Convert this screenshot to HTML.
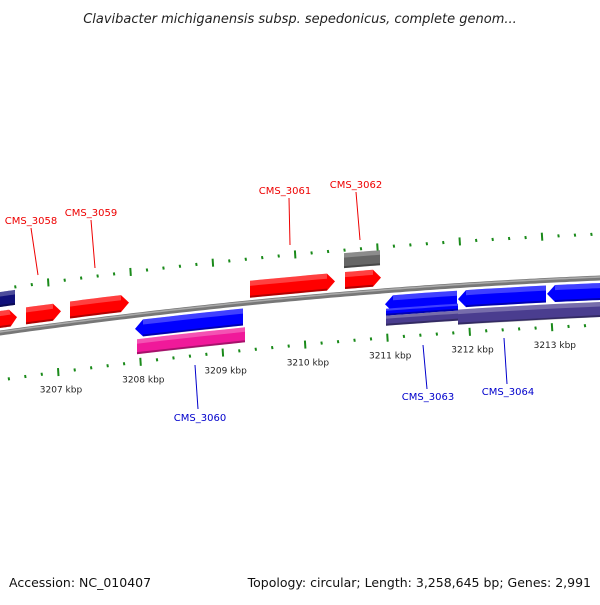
<!DOCTYPE html>
<html><head><meta charset="utf-8"><style>
body{margin:0;background:#fff}
svg text{font-family:"DejaVu Sans","Liberation Sans",sans-serif}
</style></head><body>
<svg id="s" width="600" height="600" viewBox="0 0 600 600">
<text x="300" y="23" text-anchor="middle" font-size="13" font-style="italic" fill="#222">Clavibacter michiganensis subsp. sepedonicus, complete genom...</text>
<text x="9" y="587" font-size="12.5" fill="#111">Accession: NC_010407</text>
<text x="591" y="587" font-size="12.5" fill="#111" text-anchor="end">Topology: circular; Length: 3,258,645 bp; Genes: 2,991</text>
</svg>
<script>
const tickKbp=[3207,3208,3209,3210,3211,3212,3213];
const featStart=[-2,-2,26,70,250,344,345,135,137,385,458,547,386,386,458];
const featEnd=[15,17,61,129,335,380,381,243,245,457,546,605,458,458,605];
const featRow=[2,1,1,1,1,2,1,-1,-2,-1,-1,-1,-2,-3,-2];
const featColor=['#10107a','#f00','#f00','#f00','#f00','#666','#f00','#00f','#f0199a','#00f','#00f','#00f','#00f','#4a3d8f','#4a3d8f'];
const featArrow=['n','r','r','r','r','n','r','l','n','l','l','l','n','n','n'];
const labelText=['CMS_3058','CMS_3059','CMS_3061','CMS_3062','CMS_3060','CMS_3063','CMS_3064'];
const labelX=[31,91,285,356,200,428,508];
const labelY=[224,216,194,188,421,400,395];
const labelColor=['#e00','#e00','#e00','#e00','#00c','#00c','#00c'];
const labelLine=[[31,228,38,275],[91,220,95,268],[289,198,290,245],[356,192,360,240],[195,365,198,409],[423,345,427,389],[504,338,507,384]];
const svg=document.getElementById('s');const NS='http://www.w3.org/2000/svg';
function B(x){const t=x/600;return (1-t)*(1-t)*333+2*t*(1-t)*290.5+t*t*278;}
function X(k){return 58+(k-3207)*82.3;}
function mk(tag,attrs){const e=document.createElementNS(NS,tag);for(const k in attrs)e.setAttribute(k,attrs[k]);svg.appendChild(e);return e;}
// backbone
let d='';for(let x=-5;x<=605;x+=5)d+=(x==-5?'M':'L')+x+','+B(x).toFixed(1);
let bb=mk('path',{d:d,stroke:'#777',fill:'none','stroke-width':5});

let bb2=mk('path',{d:d,stroke:'#aaa',fill:'none','stroke-width':1.5,transform:'translate(0,-1)'});

// ticks
for(let i=-4;i<=37;i++){const k=3207+i*0.2;const x=X(k);const major=Math.abs(i%5)==0;const L=major?4:1.5;
 let yl=B(x)+47;let t1=mk('line',{x1:x,y1:yl-L,x2:x+0.5,y2:yl+L,stroke:'#1a8a1a','stroke-width':2});
 
 let xu=x-10;let yu=B(xu)-44;let t2=mk('line',{x1:xu,y1:yu-L,x2:xu+0.5,y2:yu+L,stroke:'#1a8a1a','stroke-width':2});
 }
tickKbp.forEach(k=>{const x=X(k)+3;let t=mk('text',{x:x,y:B(x)+68,'font-size':9,'text-anchor':'middle',fill:'#222'});t.textContent=k+' kbp';
 });
// features
const rowOff={1:[-22,-5],2:[-41,-26],'-1':[5,22],'-2':[24,39],'-3':[18,24]};
featStart.forEach((s,i)=>{const e=featEnd[i];let [o1,o2]=rowOff[featRow[i]];if(i==12){o1=18;o2=25;}if(i==13){o1=25;o2=35;}
 const top=x=>B(x)+o1,bot=x=>B(x)+o2;const h=o2-o1;const a=Math.min(8,(e-s)/3);let p=[];
 const sx=featArrow[i]=='l'?s+a:s,ex=featArrow[i]=='r'?e-a:e;
 for(let x=sx;x<=ex;x+=(ex-sx)/8)p.push([x,top(x)]);
 if(featArrow[i]=='r')p.push([e,(top(e)+bot(e))/2]);
 for(let x=ex;x>=sx-0.01;x-=(ex-sx)/8)p.push([x,bot(x)]);
 if(featArrow[i]=='l')p.push([s,(top(s)+bot(s))/2]);
 let g=mk('polygon',{points:p.map(q=>q[0].toFixed(1)+','+q[1].toFixed(1)).join(' '),fill:featColor[i]});
 
 let hp=[];for(let x=sx;x<=ex;x+=(ex-sx)/8)hp.push([x,top(x)]);for(let x=ex;x>=sx-0.01;x-=(ex-sx)/8)hp.push([x,top(x)+h*0.3]);
 let hl=mk('polygon',{points:hp.map(q=>q[0].toFixed(1)+','+q[1].toFixed(1)).join(' '),fill:'#fff','fill-opacity':0.25});
 
 let dl=mk('line',{x1:sx,y1:bot(sx)-1,x2:ex,y2:bot(ex)-1,stroke:'#000','stroke-opacity':0.3,'stroke-width':2});
 });
// labels
labelText.forEach((t,i)=>{const l=labelLine[i];let ln=mk('line',{x1:l[0],y1:l[1],x2:l[2],y2:l[3],stroke:labelColor[i],'stroke-width':1});
 
 let tx=mk('text',{x:labelX[i],y:labelY[i],'font-size':10,'text-anchor':'middle',fill:labelColor[i]});tx.textContent=t;
 });
</script>
</body></html>
